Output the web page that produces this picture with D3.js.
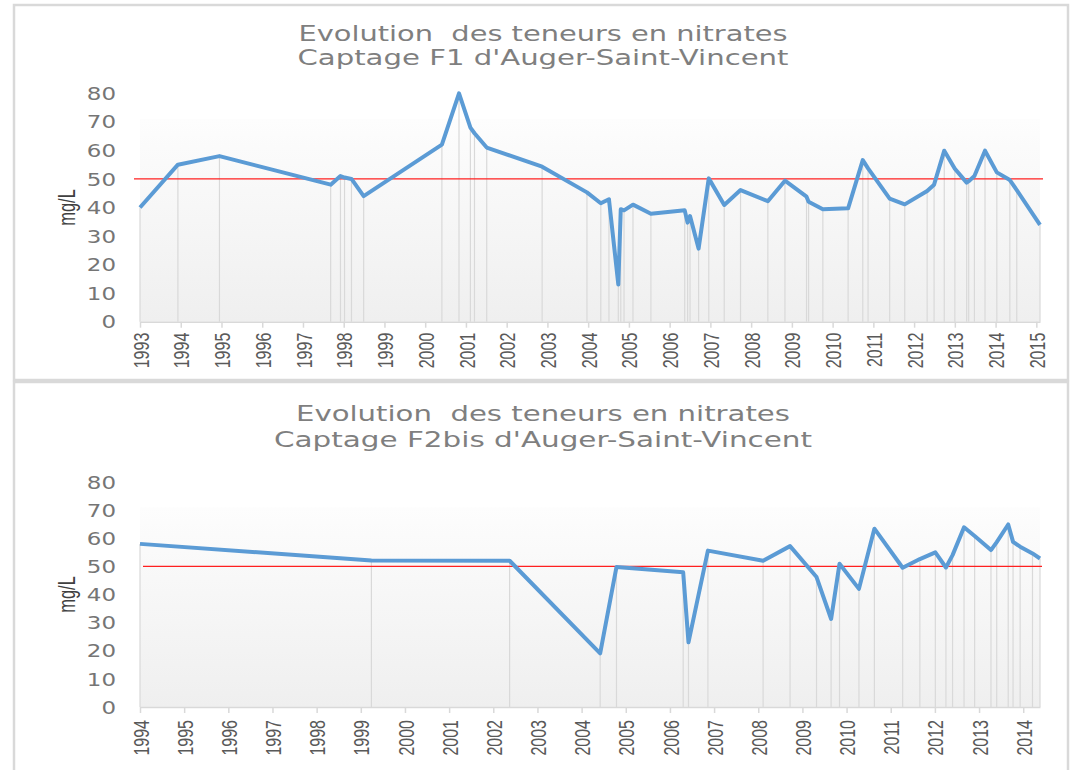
<!DOCTYPE html>
<html>
<head>
<meta charset="utf-8">
<script src="https://d3js.org/d3.v7.min.js"></script>
<style>
  body { margin: 0; background: #fff; }
  svg { display: block; }
</style>
</head>
<body>
<div id="chart"></div>
<script>
const width = 1072
const height = 770

// F1 sampling dates (decimal years) and nitrate values (mg/L)
const f1Dates = [1993.0, 1993.93, 1994.95, 1997.68, 1997.92, 1998.02, 1998.19, 1998.49, 2000.41, 2000.83,
  2001.11, 2001.21, 2001.51, 2002.87, 2003.97, 2004.31, 2004.51, 2004.74, 2004.80, 2004.88,
  2005.10, 2005.54, 2006.37, 2006.44, 2006.50, 2006.71, 2006.96, 2007.34, 2007.74, 2008.41,
  2008.83, 2009.36, 2009.41, 2009.76, 2010.38, 2010.74, 2010.87, 2011.40, 2011.77, 2012.32,
  2012.49, 2012.74, 2013.00, 2013.29, 2013.34, 2013.48, 2013.74, 2014.03, 2014.35, 2014.52,
  2015.09]
const f1Values = [40, 55, 58, 48, 51, 50.5, 50, 44, 62, 80,
  68, 66, 61, 54.3, 45.3, 41.5, 42.9, 13, 39.4, 39,
  41, 37.8, 39, 34.7, 37, 25.6, 50.2, 40.9, 46.1, 42.2,
  49.4, 43.8, 42, 39.4, 39.7, 56.6, 53.7, 43.1, 41.1, 45.8,
  48, 59.9, 53.6, 48.7, 49.2, 51, 59.9, 52.3, 49.6, 46.1,
  33.9]

// F2bis sampling dates and values
const f2Dates = [1994.0, 1999.24, 2002.37, 2004.42, 2004.79, 2006.30, 2006.42, 2006.86, 2008.11, 2008.72,
  2009.32, 2009.65, 2009.84, 2010.28, 2010.63, 2011.27, 2011.66, 2012.01, 2012.25, 2012.40,
  2012.66, 2012.90, 2013.27, 2013.40, 2013.66, 2013.77, 2013.93, 2014.21, 2014.38]
const f2Values = [58, 52.1, 52, 19.1, 49.8, 47.9, 23, 55.6, 52, 57.2,
  46.2, 31.3, 50.9, 42, 63.4, 49.5, 52.6, 55, 49.6, 54,
  63.9, 60.8, 55.8, 58.6, 64.9, 58.7, 57, 54.6, 52.8]

const yTicks = [0, 10, 20, 30, 40, 50, 60, 70, 80]
const f1Years = d3.range(1993, 2016)
const f2Years = d3.range(1994, 2015)
const f1Title = ["Evolution  des teneurs en nitrates", "Captage F1 d'Auger-Saint-Vincent"]
const f2Title = ["Evolution  des teneurs en nitrates", "Captage F2bis d'Auger-Saint-Vincent"]
const limit = 50
const yLabel = "mg/L"

const blue = "#5b9bd5"
const grid = "#d9d9d9"

const svg = d3
  .select("#chart")
  .append("svg")
  .attr("width", width)
  .attr("height", height)

// plot area gradient (white -> light grey)
const grad = svg
  .append("defs")
  .append("linearGradient")
  .attr("id", "plotBg")
  .attr("x1", 0)
  .attr("y1", 0)
  .attr("x2", 0)
  .attr("y2", 1)
grad.append("stop").attr("offset", "0%").attr("stop-color", "#fdfdfd")
grad.append("stop").attr("offset", "100%").attr("stop-color", "#efefef")

function drawPanel(p) {
  const g = svg.append("g")

  g.append("rect")
    .attr("x", p.box[0])
    .attr("y", p.box[1])
    .attr("width", p.box[2] - p.box[0])
    .attr("height", p.box[3] - p.box[1])
    .attr("fill", "#fff")
    .attr("stroke", grid)
    .attr("stroke-width", 2.5)

  const x = d3.scaleLinear().domain(p.xDomain).range(p.xRange)
  const y = d3.scaleLinear().domain([0, 80]).range(p.yRange)

  // titles
  p.title.forEach((t, i) => {
    g.append("text")
      .attr("x", 543)
      .attr("y", p.titleY[i])
      .attr("text-anchor", "middle")
      .attr("textLength", p.titleW[i])
      .attr("lengthAdjust", "spacingAndGlyphs")
      .style("white-space", "pre")
      .style("font-family", "'DejaVu Sans', Verdana, sans-serif")
      .style("font-size", "21px")
      .style("fill", "#7f7f7f")
      .text(t)
  })

  g.append("rect")
    .attr("x", x.range()[0])
    .attr("y", y(71))
    .attr("width", x.range()[1] - x.range()[0])
    .attr("height", y(0) - y(71))
    .attr("fill", "url(#plotBg)")

  const pts = p.dates.map((d, i) => ({date: d, value: p.values[i]}))

  // drop lines
  g.append("g")
    .selectAll("line")
    .data(pts)
    .join("line")
    .attr("x1", d => x(d.date))
    .attr("x2", d => x(d.date))
    .attr("y1", y(0))
    .attr("y2", d => y(d.value))
    .attr("stroke", grid)
    .attr("stroke-width", 1.2)

  // x axis
  const xAxis = g.append("g")
    .attr("transform", `translate(0,${y(0)})`)
    .call(d3.axisBottom(x).tickValues(p.years).tickSize(6).tickSizeOuter(0).tickFormat(d3.format("d")))
  xAxis.select(".domain").attr("stroke", grid).attr("stroke-width", 1.5)
  xAxis.selectAll(".tick line").attr("stroke", grid).attr("stroke-width", 1.5)
  xAxis.selectAll(".tick text")
    .attr("x", 0)
    .attr("y", 0)
    .attr("dy", "0.36em")
    .attr("text-anchor", "end")
    .attr("transform", `translate(0,${p.labelGap}) rotate(-90) scale(1,1.4)`)
    .style("font-family", "'Liberation Sans', Arial, sans-serif")
    .style("font-size", "16px")
    .style("fill", "#595959")

  // y axis
  const yAxis = g.append("g")
    .attr("transform", `translate(${x.range()[0]},0)`)
    .call(d3.axisLeft(y).tickValues(yTicks).tickSize(0))
  yAxis.select(".domain").remove()
  yAxis.selectAll(".tick text")
    .attr("x", 0)
    .attr("dy", "0.36em")
    .attr("transform", "translate(-24,0) scale(1.35,1)")
    .style("font-family", "'DejaVu Sans', Verdana, sans-serif")
    .style("font-size", "17px")
    .style("fill", "#757575")

  g.append("text")
    .attr("transform", `translate(67,${(y(0) + y(80)) / 2}) rotate(-90) scale(1,1.4)`)
    .attr("text-anchor", "middle")
    .attr("dy", "0.36em")
    .style("font-family", "'Liberation Sans', Arial, sans-serif")
    .style("font-size", "16.5px")
    .style("fill", "#404040")
    .text(yLabel)

  // 50 mg/L limit
  g.append("line")
    .attr("x1", x.range()[0] + p.limitPad[0])
    .attr("x2", x.range()[1] + p.limitPad[1])
    .attr("y1", y(limit))
    .attr("y2", y(limit))
    .attr("stroke", "#ff2020")
    .attr("stroke-width", 1.3)

  const line = d3.line().x(d => x(d.date)).y(d => y(d.value))
  g.append("path")
    .datum(pts)
    .attr("d", line)
    .attr("fill", "none")
    .attr("stroke", blue)
    .attr("stroke-width", 4)
    .attr("stroke-linejoin", "round")
}

drawPanel({
  box: [14, 5, 1068, 380],
  xDomain: [1993, 2015.09],
  xRange: [140, 1040],
  yRange: [321.7, 93.3],
  title: f1Title,
  titleY: [40.5, 64.5],
  titleW: [489, 491],
  dates: f1Dates,
  values: f1Values,
  years: f1Years,
  labelGap: 11,
  limitPad: [-6, 3],
})

drawPanel({
  box: [14, 382, 1068, 800],
  xDomain: [1994, 2014.38],
  xRange: [140, 1040],
  yRange: [707, 482],
  title: f2Title,
  titleY: [421, 447],
  titleW: [494, 538],
  dates: f2Dates,
  values: f2Values,
  years: f2Years,
  labelGap: 13,
  limitPad: [3, 2],
})
</script>
</body>
</html>
